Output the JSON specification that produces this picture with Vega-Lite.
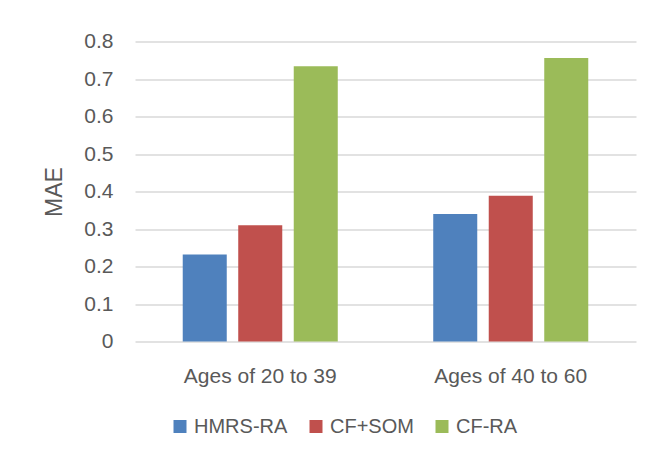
{
  "$schema": "https://vega.github.io/schema/vega-lite/v6.json",
  "width": 501,
  "height": 300,
  "autosize": {"type": "none"},
  "padding": {"left": 135, "top": 41.5, "right": 23, "bottom": 116.5},
  "background": "white",
  "config": {"font": "Liberation Sans", "view": {"stroke": null}},
  "data": {
    "values": [
      {"group": "Ages of 20 to 39", "method": "HMRS-RA", "MAE": 0.232},
      {"group": "Ages of 20 to 39", "method": "CF+SOM", "MAE": 0.31},
      {"group": "Ages of 20 to 39", "method": "CF-RA", "MAE": 0.734},
      {"group": "Ages of 40 to 60", "method": "HMRS-RA", "MAE": 0.34},
      {"group": "Ages of 40 to 60", "method": "CF+SOM", "MAE": 0.389},
      {"group": "Ages of 40 to 60", "method": "CF-RA", "MAE": 0.756}
    ]
  },
  "mark": {"type": "bar"},
  "encoding": {
    "x": {
      "field": "group",
      "type": "nominal",
      "sort": null,
      "scale": {"paddingInner": 0, "paddingOuter": 0},
      "axis": {
        "title": null,
        "labelAngle": 0,
        "domain": false,
        "ticks": false,
        "labelFontSize": 21,
        "labelColor": "#595959",
        "labelPadding": 24
      }
    },
    "xOffset": {
      "field": "method",
      "type": "nominal",
      "sort": ["HMRS-RA", "CF+SOM", "CF-RA"],
      "scale": {"paddingInner": 0.207, "paddingOuter": 0.86}
    },
    "y": {
      "field": "MAE",
      "type": "quantitative",
      "scale": {"domain": [0, 0.8]},
      "axis": {
        "title": "MAE",
        "values": [0, 0.1, 0.2, 0.3, 0.4, 0.5, 0.6, 0.7, 0.8],
        "format": ".1~f",
        "grid": true,
        "gridColor": "#d9d9d9",
        "gridWidth": 1.3,
        "domain": false,
        "ticks": false,
        "labelPadding": 22,
        "labelFontSize": 21,
        "labelColor": "#595959",
        "titleFontSize": 23,
        "titleFontWeight": "normal",
        "titleColor": "#595959",
        "titlePadding": 17
      }
    },
    "color": {
      "field": "method",
      "type": "nominal",
      "scale": {"domain": ["HMRS-RA", "CF+SOM", "CF-RA"], "range": ["#4F81BD", "#C0504D", "#9BBB59"]},
      "legend": {
        "title": null,
        "orient": "none",
        "legendX": 35,
        "legendY": 375,
        "direction": "horizontal",
        "symbolType": "square",
        "symbolSize": 169,
        "symbolStrokeWidth": 0,
        "labelFontSize": 20,
        "labelColor": "#595959",
        "labelOffset": 4,
        "columnPadding": 18,
        "padding": 0
      }
    }
  }
}
